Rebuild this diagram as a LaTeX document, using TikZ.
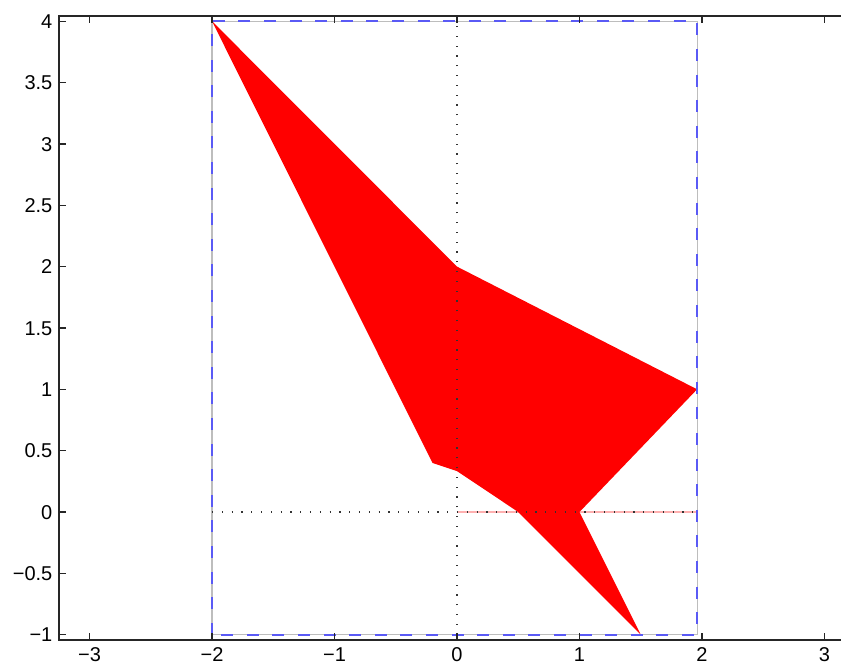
\documentclass[tikz,border=0pt]{standalone}
\usepackage{fontspec}
\setmainfont{Liberation Sans}
\usetikzlibrary{positioning}
\definecolor{patch}{HTML}{FF0000}
\definecolor{bbox}{HTML}{5A5AF5}
\definecolor{frame}{HTML}{BDBDBD}
\definecolor{xline}{HTML}{FFB0B0}
\tikzset{axis/.style={draw=black!85,line width=1pt},tick/.style={draw=black!85,line width=0.6pt},lab/.style={font=\fontsize{10}{12}\selectfont,inner sep=0pt},guide/.style={draw=black!80,line width=0.6pt,dash pattern=on 0.6pt off 4.3pt},bnd/.style={draw=bbox,line width=0.9pt,dash pattern=on 6pt off 6.8pt}}

\begin{document}
\begin{tikzpicture}[x=61.25pt,y=61.35pt]
\useasboundingbox (-3.7306,-1.2551) rectangle (3.1347,4.1728);
\draw[xline,line width=0.8pt] (0,0)--(1.96,0);
\fill[patch] (-2,4)--(0,2)--(1.96,1)--(1,0)--(1.5,-1)--(0.5,0)--(0,0.333)--(-0.2,0.4)--cycle;
\draw[frame,line width=0.6pt] (-2,-1) rectangle (1.96,4);
\draw[bnd] (-2,-1) rectangle (1.96,4);
\draw[guide] (0,-1)--(0,4);
\draw[guide] (-2,0)--(1.96,0);
\draw[axis] (3.2,4.042)--(-3.249,4.042)--(-3.249,-1.043)--(3.2,-1.043);
\foreach \x/\t in {-3/−3,-2/−2,-1/−1,0/0,1/1,2/2,3/3}{\draw[tick] (\x,-1.043)--++(0,3.5pt) (\x,4.042)--++(0,-3.5pt);
\node[lab,anchor=base] (xl\x) at (\x,-1.215) {\t};}
\foreach \y/\t [count=\k] in {-1/−1,-0.5/−0.5,0/0,0.5/0.5,1/1,1.5/1.5,2/2,2.5/2.5,3/3,3.5/3.5,4/4}{\draw[tick] (-3.249,\y)--++(3.5pt,0);
\node[lab,anchor=base east,yshift=-3.6pt] (yl\k) at (-3.300,\y) {\t};}
\end{tikzpicture}
\end{document}
